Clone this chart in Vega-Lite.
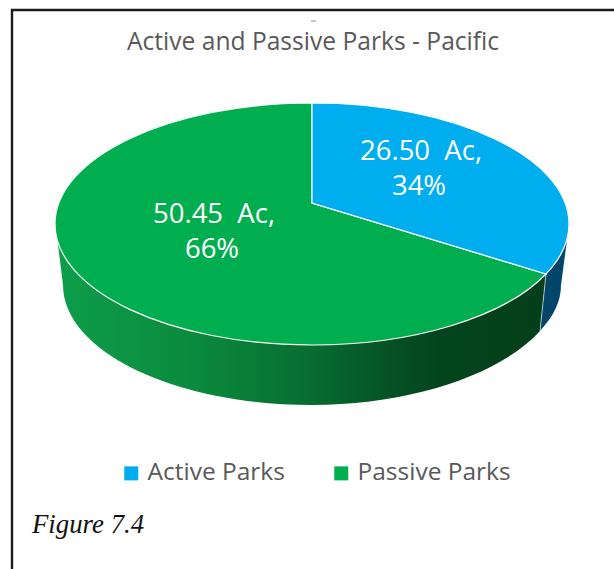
{
  "$schema": "https://vega.github.io/schema/vega-lite/v6.json",
  "width": 610,
  "height": 564,
  "padding": {"left": 2, "top": 2, "right": 2, "bottom": 3},
  "autosize": "none",
  "background": "white",
  "view": {"stroke": null, "fill": "white"},
  "title": {"text": "Active and Passive Parks - Pacific", "font": "Open Sans", "fontSize": 24.6, "fontWeight": "normal", "color": "#595959", "anchor": "middle", "offset": -54, "dx": 6},
  "data": {"values": [
    {"category": "Active Parks", "acres": 26.5, "share": 34, "label": "26.50\u00a0\u00a0Ac,", "pct": "34%"},
    {"category": "Passive Parks", "acres": 50.45, "share": 66, "label": "50.45\u00a0\u00a0Ac,", "pct": "66%"}
  ]},
  "layer": [
    {
      "mark": {"type": "square", "size": 0, "opacity": 1},
      "encoding": {
        "color": {"field": "category", "type": "nominal",
          "scale": {"domain": ["Active Parks", "Passive Parks"], "range": ["#00adef", "#00ae4f"]},
          "legend": {"title": null, "orient": "none", "legendX": 117, "legendY": 459, "direction": "horizontal", "symbolType": "square", "symbolSize": 196, "symbolOpacity": 1, "labelFont": "Open Sans", "labelFontSize": 24.5, "labelColor": "#595959", "columnPadding": 44, "labelOffset": 4, "symbolStrokeWidth": 0}}
      }
    },
    {
      "transform": [{"filter": "datum.category === 'Active Parks'"}],
      "mark": {"type": "point", "filled": false, "opacity": 1, "size": 4,
        "shape": "M-295,300 L-295,-274 L320,-274", "stroke": "#1c1c1c", "strokeWidth": 2.4}
    },
    {
      "transform": [{"filter": "datum.category === 'Active Parks'"}],
      "mark": {"type": "point", "filled": false, "opacity": 1, "size": 4,
        "shape": "M4,-263 L9,-263", "stroke": "#888888", "strokeWidth": 1}
    },
    {
      "transform": [{"filter": "datum.category === 'Passive Parks'"}],
      "mark": {"type": "point", "filled": true, "opacity": 1, "size": 4,
        "shape": "M-250,-47 L-244,1 C-244,67 -133,121 5,121 C103.9,121 193.3,90.6 233,47 L239,-10 Z",
        "fill": {"gradient": "linear", "x1": 0, "y1": 0, "x2": 1, "y2": 0, "stops": [
          {"offset": 0, "color": "#0d9e4a"}, {"offset": 0.28, "color": "#0b8a3e"}, {"offset": 0.5, "color": "#086f32"}, {"offset": 0.7, "color": "#054f24"}, {"offset": 0.78, "color": "#03441d"}, {"offset": 1, "color": "#033f1a"}]}}
    },
    {
      "transform": [{"filter": "datum.category === 'Active Parks'"}],
      "mark": {"type": "point", "filled": true, "opacity": 1, "size": 4,
        "shape": "M239,-10 L233,47 C246.8,31.9 254,17.5 254,1 L260,-44 Z",
        "fill": "#02466b"}
    },
    {
      "transform": [{"filter": "datum.category === 'Active Parks'"}],
      "mark": {"type": "point", "filled": false, "opacity": 1, "size": 4,
        "shape": "M239,-10 L233,47", "stroke": "#dfe8e8", "strokeWidth": 0.7}
    },
    {
      "transform": [{"filter": "datum.category === 'Passive Parks'"}],
      "mark": {"type": "point", "filled": true, "opacity": 1, "size": 4, "stroke": "#ffffff", "strokeWidth": 1.2,
        "shape": "M5,-81 L5,-181 C-137,-181 -252,-127 -252,-60 C-252,7 -137,61 5,61 C105.8,61 197.4,33.2 239,-10 Z"},
      "encoding": {
        "fill": {"field": "category", "type": "nominal", "legend": null,
          "scale": {"domain": ["Active Parks", "Passive Parks"], "range": ["#00adef", "#00ae4f"]}}
      }
    },
    {
      "transform": [{"filter": "datum.category === 'Active Parks'"}],
      "mark": {"type": "point", "filled": true, "opacity": 1, "size": 4, "stroke": "#ffffff", "strokeWidth": 1.2,
        "shape": "M5,-81 L5,-181 C147,-181 262,-127 262,-60 C262,-42.8 254.1,-25.7 239,-10 Z"},
      "encoding": {
        "fill": {"field": "category", "type": "nominal", "legend": null,
          "scale": {"domain": ["Active Parks", "Passive Parks"], "range": ["#00adef", "#00ae4f"]}}
      }
    },
    {
      "mark": {"type": "text", "font": "Open Sans", "fontSize": 27.5, "color": "white", "align": "center", "baseline": "middle", "dx": 114, "dy": -132},
      "transform": [{"filter": "datum.category === 'Active Parks'"}],
      "encoding": {"text": {"field": "label"}}
    },
    {
      "mark": {"type": "text", "font": "Open Sans", "fontSize": 27.5, "color": "white", "align": "center", "baseline": "middle", "dx": 112, "dy": -97},
      "transform": [{"filter": "datum.category === 'Active Parks'"}],
      "encoding": {"text": {"field": "pct"}}
    },
    {
      "mark": {"type": "text", "font": "Open Sans", "fontSize": 27.5, "color": "white", "align": "center", "baseline": "middle", "dx": -93, "dy": -69},
      "transform": [{"filter": "datum.category === 'Passive Parks'"}],
      "encoding": {"text": {"field": "label"}}
    },
    {
      "mark": {"type": "text", "font": "Open Sans", "fontSize": 27.5, "color": "white", "align": "center", "baseline": "middle", "dx": -95, "dy": -34},
      "transform": [{"filter": "datum.category === 'Passive Parks'"}],
      "encoding": {"text": {"field": "pct"}}
    },
    {
      "transform": [{"filter": "datum.category === 'Active Parks'"}],
      "mark": {"type": "text", "font": "Liberation Serif", "fontStyle": "italic", "fontSize": 26.8, "color": "#111111", "align": "left", "baseline": "middle", "dx": -275, "dy": 241, "text": "Figure 7.4"},
      "encoding": {}
    }
  ]
}
